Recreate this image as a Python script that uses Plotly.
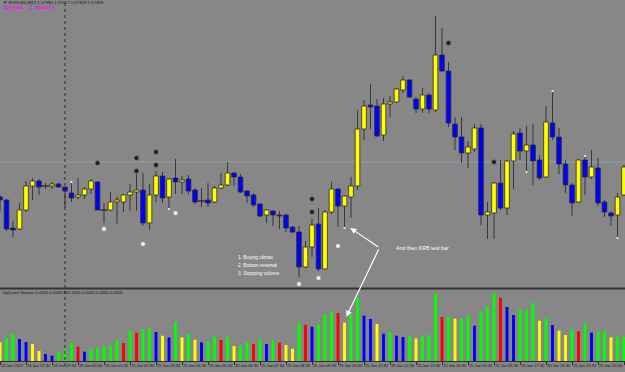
import plotly.graph_objects as go

W, H = 625, 372

# ---------------- data (EURUSD M15, 24 Jan 21:30 -> 25 Jan 21:30) ----------------
bar_index = list(range(97))

opens = [1.07334, 1.07331, 1.07303, 1.07302, 1.07321, 1.07345, 1.07350, 1.07345, 1.07345, 1.07347,
         1.07344, 1.07338, 1.07334, 1.07336, 1.07342, 1.07349, 1.07321, 1.07321, 1.07329, 1.07329,
         1.07336, 1.07339, 1.07341, 1.07308, 1.07336, 1.07355, 1.07334, 1.07353, 1.07349, 1.07352,
         1.07341, 1.07330, 1.07331, 1.07329, 1.07343, 1.07346, 1.07358, 1.07354, 1.07340, 1.07336,
         1.07327, 1.07316, 1.07320, 1.07316, 1.07316, 1.07304, 1.07299, 1.07264, 1.07284, 1.07307,
         1.07262, 1.07319, 1.07342, 1.07325, 1.07334, 1.07345, 1.07402, 1.07426, 1.07425, 1.07396,
         1.07427, 1.07429, 1.07441, 1.07451, 1.07432, 1.07422, 1.07436, 1.07421, 1.07476, 1.07460,
         1.07407, 1.07394, 1.07378, 1.07382, 1.07403, 1.07316, 1.07318, 1.07348, 1.07323, 1.07370,
         1.07398, 1.07380, 1.07386, 1.07371, 1.07354, 1.07408, 1.07394, 1.07367, 1.07346, 1.07329,
         1.07371, 1.07354, 1.07363, 1.07329, 1.07318, 1.07316, 1.07336]

highs = [1.07336, 1.07332, 1.07310, 1.07328, 1.07350, 1.07353, 1.07352, 1.07348, 1.07349, 1.07348,
         1.07344, 1.07349, 1.07353, 1.07344, 1.07352, 1.07350, 1.07328, 1.07339, 1.07334, 1.07337,
         1.07347, 1.07357, 1.07358, 1.07347, 1.07360, 1.07359, 1.07353, 1.07372, 1.07355, 1.07356,
         1.07343, 1.07343, 1.07348, 1.07345, 1.07358, 1.07369, 1.07359, 1.07357, 1.07341, 1.07338,
         1.07328, 1.07322, 1.07321, 1.07320, 1.07317, 1.07305, 1.07305, 1.07290, 1.07312, 1.07323,
         1.07321, 1.07349, 1.07343, 1.07336, 1.07354, 1.07421, 1.07431, 1.07447, 1.07432, 1.07433,
         1.07435, 1.07443, 1.07455, 1.07452, 1.07434, 1.07443, 1.07438, 1.07515, 1.07503, 1.07469,
         1.07414, 1.07414, 1.07390, 1.07407, 1.07407, 1.07329, 1.07349, 1.07371, 1.07371, 1.07400,
         1.07403, 1.07405, 1.07407, 1.07376, 1.07425, 1.07440, 1.07403, 1.07371, 1.07348, 1.07372,
         1.07375, 1.07381, 1.07373, 1.07331, 1.07320, 1.07338, 1.07366]

lows = [1.07319, 1.07300, 1.07294, 1.07301, 1.07319, 1.07331, 1.07336, 1.07342, 1.07342, 1.07343,
        1.07323, 1.07329, 1.07332, 1.07332, 1.07337, 1.07321, 1.07308, 1.07320, 1.07307, 1.07319,
        1.07320, 1.07320, 1.07305, 1.07301, 1.07329, 1.07328, 1.07322, 1.07337, 1.07337, 1.07337,
        1.07327, 1.07324, 1.07324, 1.07328, 1.07342, 1.07345, 1.07345, 1.07338, 1.07328, 1.07324,
        1.07314, 1.07308, 1.07305, 1.07302, 1.07299, 1.07298, 1.07254, 1.07263, 1.07274, 1.07260,
        1.07261, 1.07317, 1.07304, 1.07303, 1.07313, 1.07341, 1.07391, 1.07402, 1.07394, 1.07390,
        1.07414, 1.07428, 1.07438, 1.07433, 1.07418, 1.07418, 1.07418, 1.07419, 1.07459, 1.07404,
        1.07381, 1.07368, 1.07363, 1.07379, 1.07306, 1.07292, 1.07292, 1.07321, 1.07316, 1.07342,
        1.07371, 1.07359, 1.07346, 1.07351, 1.07353, 1.07391, 1.07357, 1.07338, 1.07315, 1.07328,
        1.07336, 1.07352, 1.07325, 1.07314, 1.07305, 1.07293, 1.07335]

closes = [1.07331, 1.07302, 1.07301, 1.07321, 1.07345, 1.07350, 1.07344, 1.07345, 1.07347, 1.07344,
          1.07340, 1.07333, 1.07336, 1.07342, 1.07350, 1.07321, 1.07321, 1.07329, 1.07331, 1.07336,
          1.07339, 1.07341, 1.07308, 1.07336, 1.07355, 1.07333, 1.07352, 1.07349, 1.07351, 1.07340,
          1.07329, 1.07330, 1.07328, 1.07343, 1.07346, 1.07358, 1.07354, 1.07339, 1.07335, 1.07326,
          1.07315, 1.07321, 1.07316, 1.07315, 1.07303, 1.07299, 1.07264, 1.07284, 1.07306, 1.07262,
          1.07319, 1.07342, 1.07325, 1.07335, 1.07345, 1.07402, 1.07425, 1.07424, 1.07395, 1.07427,
          1.07429, 1.07442, 1.07451, 1.07434, 1.07422, 1.07436, 1.07422, 1.07476, 1.07460, 1.07408,
          1.07394, 1.07378, 1.07384, 1.07403, 1.07316, 1.07319, 1.07348, 1.07323, 1.07370, 1.07397,
          1.07380, 1.07386, 1.07370, 1.07353, 1.07409, 1.07394, 1.07367, 1.07346, 1.07328, 1.07371,
          1.07354, 1.07364, 1.07328, 1.07319, 1.07315, 1.07334, 1.07364]

volumes = [626, 760, 905, 737, 637, 570, 335, 235, 178, 278,
           392, 613, 479, 312, 392, 436, 479, 513, 704, 603,
           1015, 948, 1062, 1082, 972, 848, 794, 1307, 794, 905,
           714, 626, 647, 814, 704, 804, 503, 526, 637, 570,
           704, 570, 704, 613, 536, 412, 1283, 1216, 1149, 1229,
           1564, 1652, 1608, 1283, 1575, 2111, 1518, 1407, 1240, 915,
           972, 848, 804, 838, 760, 838, 871, 2245, 1474, 1474,
           1417, 1417, 1508, 1183, 1652, 1819, 2288, 2121, 1809, 1541,
           1709, 1719, 1953, 1350, 1417, 1206, 1015, 871, 1062, 995,
           1263, 948, 982, 1005, 794, 814, 805]

volume_kind = ["Y", "G", "G", "B", "B", "Y", "Y", "B", "B", "G",
               "G", "G", "R", "B", "G", "G", "G", "G", "G", "R",
               "G", "R", "G", "G", "B", "Y", "B", "G", "Y", "G",
               "Y", "B", "G", "G", "R", "G", "Y", "G", "G", "R",
               "G", "B", "G", "R", "Y", "Y", "G", "R", "B", "G",
               "G", "G", "R", "Y", "G", "G", "B", "B", "Y", "B",
               "G", "B", "B", "G", "Y", "G", "G", "G", "R", "G",
               "Y", "G", "G", "B", "G", "G", "G", "R", "B", "B",
               "G", "G", "G", "Y", "G", "B", "Y", "Y", "G", "R",
               "G", "B", "G", "G", "Y", "G", "G"]

tick_bars = [0, 4, 8, 12, 16, 20, 24, 28, 32, 36, 40, 44, 48, 52, 56, 60, 64, 68, 72, 76, 80, 84, 88, 92, 96]
tick_labels = ["24 Jan 2017", "24 Jan 22:30", "24 Jan 23:30", "25 Jan 00:30", "25 Jan 01:30",
               "25 Jan 02:30", "25 Jan 03:30", "25 Jan 04:30", "25 Jan 05:30", "25 Jan 06:30",
               "25 Jan 07:30", "25 Jan 08:30", "25 Jan 09:30", "25 Jan 10:30", "25 Jan 11:30",
               "25 Jan 12:30", "25 Jan 13:30", "25 Jan 14:30", "25 Jan 15:30", "25 Jan 16:30",
               "25 Jan 17:30", "25 Jan 18:30", "25 Jan 19:30", "25 Jan 20:30", "25 Jan 21:30"]

dark_dot_bars = [15, 21, 21, 24, 24, 48, 48, 69, 76]
dark_dot_prices = [1.07368, 1.07373, 1.07360, 1.07379, 1.07366, 1.07332, 1.07319, 1.07488, 1.07369]
light_dot_bars = [16, 22, 27, 46, 49, 52]
light_dot_prices = [1.07302, 1.07287, 1.07318, 1.07247, 1.07253, 1.07285]
tiny_mark_bars = [11, 26, 53, 81, 85, 90, 95]
tiny_mark_prices = [1.07349, 1.07322, 1.07303, 1.07359, 1.07440, 1.07375, 1.07293]

bid_price = 1.07369
day_separator_bar = 10
test_bar = 53

# ---------------- styling ----------------
BG = "#878787"
YELLOW = "#ffff00"
BLUE = "#0000ff"
WICK = "#383838"
VOL_COLORS = {"G": "#00ff00", "R": "#ff0000", "B": "#0000ff", "Y": "#ffff00"}
FONT = "Liberation Sans"


def py(pix):
    return 1 - pix / H


fig = go.Figure()

# wicks
fig.add_trace(go.Bar(
    x=bar_index, y=[h - l for h, l in zip(highs, lows)], base=lows, width=0.16,
    marker=dict(color=WICK, line=dict(width=0)), xaxis="x", yaxis="y", hoverinfo="skip"))

# bodies
bx, bh, bb, bc = [], [], [], []
dx, dy = [], []
for i, o, c in zip(bar_index, opens, closes):
    if abs(c - o) < 5e-6:
        dx.append(i)
        dy.append(o)
        continue
    bx.append(i)
    bb.append(min(o, c))
    bh.append(abs(c - o))
    bc.append(YELLOW if c > o else BLUE)
fig.add_trace(go.Bar(
    x=bx, y=bh, base=bb, width=0.72,
    marker=dict(color=bc, line=dict(color="#2c2c2c", width=0.8)),
    xaxis="x", yaxis="y", hoverinfo="skip"))
fig.add_trace(go.Scatter(
    x=dx, y=dy, mode="markers",
    marker=dict(symbol="line-ew", size=5, line=dict(color="#262626", width=1.3)),
    xaxis="x", yaxis="y", hoverinfo="skip"))

# indicator dots
fig.add_trace(go.Scatter(
    x=dark_dot_bars, y=dark_dot_prices, mode="markers",
    marker=dict(size=4.5, color="#1e1e1e", line=dict(color="#5c5c5c", width=0.6)),
    xaxis="x", yaxis="y", hoverinfo="skip"))
fig.add_trace(go.Scatter(
    x=light_dot_bars, y=light_dot_prices, mode="markers",
    marker=dict(size=4.5, color="#eeeeee", line=dict(color="#a0a0a0", width=0.6)),
    xaxis="x", yaxis="y", hoverinfo="skip"))
fig.add_trace(go.Scatter(
    x=tiny_mark_bars, y=tiny_mark_prices, mode="markers",
    marker=dict(size=2.2, color="#f4f4f4", line=dict(width=0)),
    xaxis="x", yaxis="y", hoverinfo="skip"))

# volume
fig.add_trace(go.Bar(
    x=bar_index, y=volumes, width=0.45,
    marker=dict(color=[VOL_COLORS[k] for k in volume_kind], line=dict(width=0)),
    xaxis="x2", yaxis="y2", hoverinfo="skip"))

xr = [0, W / 6.5]
main_bottom = 287
vol_top, vol_bottom = 290, 361
vol_px_scale = 33.5

shapes = [
    dict(type="line", xref="paper", yref="y", x0=0, x1=1, y0=bid_price, y1=bid_price,
         line=dict(color="rgba(165,175,205,0.55)", width=1), layer="below"),
    dict(type="line", xref="x", yref="paper", x0=day_separator_bar, x1=day_separator_bar,
         y0=py(366), y1=1, line=dict(color="#2a2a2a", width=1, dash="dot")),
    dict(type="line", xref="paper", yref="paper", x0=0, x1=1, y0=py(288.5), y1=py(288.5),
         line=dict(color="#333333", width=2)),
]

annotations = [
    dict(xref="paper", yref="paper", x=0.002, y=py(3), xanchor="left", yanchor="middle",
         text="▼ EURUSD,M15 1.07380 1.07417 1.07359 1.07369", showarrow=False,
         font=dict(family=FONT, size=4.3, color="#151515")),
    dict(xref="paper", yref="paper", x=0.002, y=py(8), xanchor="left", yanchor="middle",
         text="<b>Spread: 3 points</b>", showarrow=False,
         font=dict(family="Liberation Mono", size=5.4, color="#ff00ff")),
    dict(xref="paper", yref="paper", x=0.002, y=py(292), xanchor="left", yanchor="middle",
         text="UpDown Volume 0.0000 0.0000 805.0000 0.0000 0.0000 0.0000", showarrow=False,
         font=dict(family=FONT, size=4.2, color="#151515")),
    dict(xref="paper", yref="paper", x=236 / W, y=py(257.5), xanchor="left", yanchor="middle",
         text="1. Buying climax", showarrow=False, font=dict(family=FONT, size=4.8, color="white")),
    dict(xref="paper", yref="paper", x=236 / W, y=py(265.3), xanchor="left", yanchor="middle",
         text="2. Bottom reversal", showarrow=False, font=dict(family=FONT, size=4.8, color="white")),
    dict(xref="paper", yref="paper", x=236 / W, y=py(273), xanchor="left", yanchor="middle",
         text="3. Stopping volume", showarrow=False, font=dict(family=FONT, size=4.8, color="white")),
    dict(xref="paper", yref="paper", x=394 / W, y=py(248), xanchor="left", yanchor="middle",
         text="And then KRB test bar", showarrow=False, font=dict(family=FONT, size=5.3, color="white")),
    dict(xref="x", yref="y", x=test_bar + 0.9, y=lows[test_bar], text="", showarrow=True,
         ax=29.5, ay=20, arrowhead=2, arrowsize=1, arrowwidth=1.2, arrowcolor="white", standoff=0),
    dict(xref="x2", yref="y2", x=test_bar + 0.3, y=volumes[test_bar] + 200, text="", showarrow=True,
         ax=33, ay=-69, arrowhead=2, arrowsize=1, arrowwidth=1.2, arrowcolor="white", standoff=0),
]

fig.update_layout(
    width=W, height=H, autosize=False,
    margin=dict(l=0, r=0, t=0, b=0, pad=0, autoexpand=False),
    paper_bgcolor=BG, plot_bgcolor=BG,
    showlegend=False, barmode="overlay", hovermode=False,
    xaxis=dict(domain=[0, 1], range=xr, anchor="y", visible=False, fixedrange=True, automargin=False),
    yaxis=dict(domain=[py(main_bottom), 1], range=[1.07531 - main_bottom * 1e-5, 1.07531],
               visible=False, fixedrange=True, automargin=False),
    xaxis2=dict(domain=[0, 1], range=xr, anchor="y2", showgrid=False, zeroline=False,
                showline=True, linecolor="#2e2e2e", linewidth=1, automargin=False,
                tickmode="array", tickvals=tick_bars, ticktext=tick_labels, tickangle=0,
                ticks="outside", ticklen=3, tickwidth=1, tickcolor="#2e2e2e",
                ticklabelposition="outside right",
                tickfont=dict(family=FONT, size=4, color="#111111")),
    yaxis2=dict(domain=[py(vol_bottom), py(vol_top)], range=[0, (vol_bottom - vol_top) * vol_px_scale],
                visible=False, fixedrange=True, automargin=False),
    shapes=shapes,
    annotations=annotations,
)

fig.write_html("out.html", config={"displayModeBar": False, "staticPlot": True})
